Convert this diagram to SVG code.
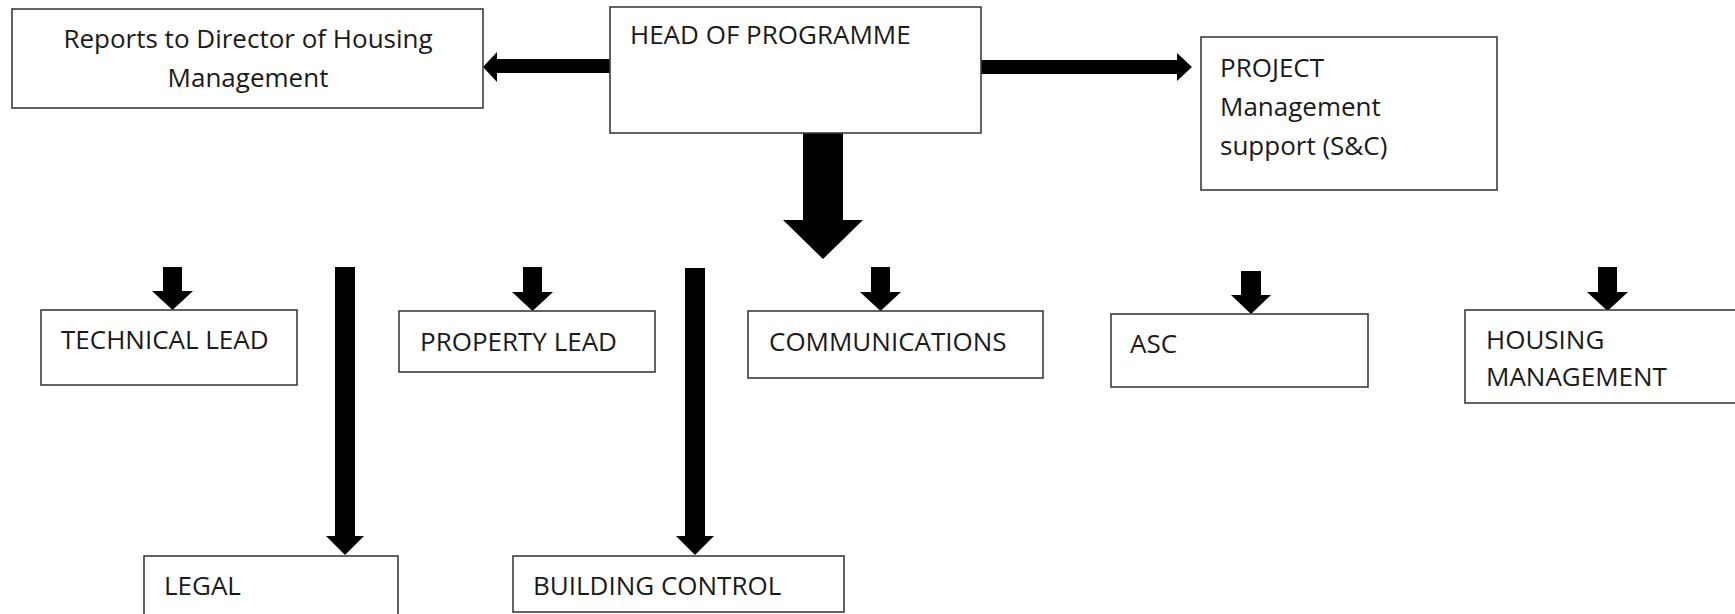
<svg xmlns="http://www.w3.org/2000/svg" width="1735" height="614" viewBox="0 0 1735 614">
<style>
.box{fill:#fff;stroke:#3c3c3c;stroke-width:1.6}
.t{font-family:"Open Sans","Liberation Sans",sans-serif;font-size:26px;fill:#1a1a1a}
.c{text-anchor:middle}
.arr{fill:#000}
</style>
<rect width="1735" height="614" fill="#fff"/>
<g id="connectors">
<polygon class="arr" points="610,59 497,59 497,52 483,67 497,82 497,73 610,73"/>
<polygon class="arr" points="981,60 1177,60 1177,53 1192,67 1177,81 1177,74 981,74"/>
<polygon class="arr" points="803,132 843,132 843,220 863,220 823,259 783,220 803,220"/>
<polygon class="arr" points="163,267 182,267 182,291 193,291 172.5,310 152,291 163,291"/>
<polygon class="arr" points="335,267 355,267 355,536 364,536 345,555 326,536 335,536"/>
<polygon class="arr" points="523,267 542,267 542,292 553,292 532.5,311 512,292 523,292"/>
<polygon class="arr" points="685,268 705,268 705,536 714,536 695,555 676,536 685,536"/>
<polygon class="arr" points="871,267 890,267 890,292 901,292 880.5,311 860,292 871,292"/>
<polygon class="arr" points="1241,271 1261,271 1261,295 1271,295 1251,314 1231,295 1241,295"/>
<polygon class="arr" points="1598,267 1617,267 1617,292 1628,292 1607.5,311 1587,292 1598,292"/>
</g>
<g id="reports">
<rect class="box" x="12" y="9" width="471" height="99"/>
<text class="t c" x="248" y="48">Reports to Director of Housing</text>
<text class="t c" x="248" y="87">Management</text>
</g>
<g id="head">
<rect class="box" x="610" y="7" width="371" height="126"/>
<text class="t" x="630" y="44">HEAD OF PROGRAMME</text>
</g>
<g id="project">
<rect class="box" x="1201" y="37" width="296" height="153"/>
<text class="t" x="1220" y="77">PROJECT</text>
<text class="t" x="1220" y="116">Management</text>
<text class="t" x="1220" y="155">support (S&amp;C)</text>
</g>
<g id="technical">
<rect class="box" x="41" y="310" width="256" height="75"/>
<text class="t" x="61" y="349">TECHNICAL LEAD</text>
</g>
<g id="property">
<rect class="box" x="399" y="311" width="256" height="61"/>
<text class="t" x="420" y="351">PROPERTY LEAD</text>
</g>
<g id="communications">
<rect class="box" x="748" y="311" width="295" height="67"/>
<text class="t" x="769" y="351">COMMUNICATIONS</text>
</g>
<g id="asc">
<rect class="box" x="1111" y="314" width="257" height="73"/>
<text class="t" x="1130" y="353">ASC</text>
</g>
<g id="housing">
<rect class="box" x="1465" y="310" width="290" height="93"/>
<text class="t" x="1486" y="349">HOUSING</text>
<text class="t" x="1486" y="386">MANAGEMENT</text>
</g>
<g id="legal">
<rect class="box" x="144" y="556" width="254" height="70"/>
<text class="t" x="164" y="595">LEGAL</text>
</g>
<g id="building">
<rect class="box" x="513" y="556" width="331" height="56"/>
<text class="t" x="533" y="595">BUILDING CONTROL</text>
</g>
</svg>
